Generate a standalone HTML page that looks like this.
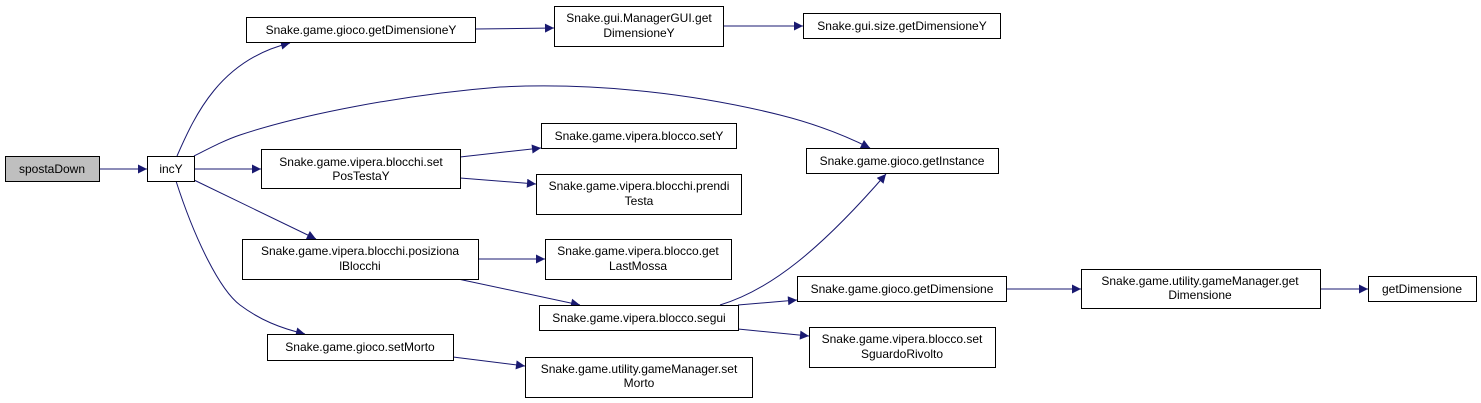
<!DOCTYPE html>
<html><head><meta charset="utf-8"><style>
html,body{margin:0;padding:0;background:#fff;}
svg{display:block;}
text{font-family:"Liberation Sans",Arial,sans-serif;font-size:12px;fill:#000;}
</style></head><body>
<svg width="1481" height="403" viewBox="0 0 1481 403" xmlns="http://www.w3.org/2000/svg">
<defs>
<marker id="a" viewBox="0 0 10 10" refX="10" refY="5" markerWidth="12" markerHeight="9" markerUnits="userSpaceOnUse" orient="auto">
<path d="M0,0 L10,5 L0,10 z" fill="#191970"/>
</marker>
</defs>
<g fill="none" stroke="#191970" stroke-width="1" marker-end="url(#a)">
<path d="M99,169 L147,169"/>
<path d="M177,156 C195,115 220,60 290,43"/>
<path d="M194,156 C210,148 225,140 240,135 C300,115 400,95 500,87 C600,82 700,95 780,115 C820,125 850,138 870,148"/>
<path d="M194,169 L261,169"/>
<path d="M194,180 L316,239"/>
<path d="M176,181 C195,240 220,290 240,305 C260,320 280,328 305,334"/>
<path d="M475,29 L554,28"/>
<path d="M723,26 L803,26"/>
<path d="M460,157 L541,148"/>
<path d="M460,178 L536,184"/>
<path d="M478,259 L545,259"/>
<path d="M458,279 L580,305"/>
<path d="M453,357 L525,366"/>
<path d="M720,305 C770,290 820,250 886,174"/>
<path d="M738,305 L797,300"/>
<path d="M738,329 L809,336"/>
<path d="M1006,289 L1081,289"/>
<path d="M1320,289 L1368,289"/>
</g>
<g fill="#fff" stroke="#000" stroke-width="1">
<rect x="5.5" y="156.5" width="94" height="25" fill="#bfbfbf"/>
<rect x="147.5" y="156.5" width="47" height="25"/>
<rect x="246.5" y="17.5" width="229" height="25"/>
<rect x="261.5" y="149.5" width="199" height="39"/>
<rect x="242.5" y="239.5" width="236" height="40"/>
<rect x="267.5" y="334.5" width="186" height="26"/>
<rect x="554.5" y="6.5" width="169" height="40"/>
<rect x="803.5" y="13.5" width="197" height="25"/>
<rect x="541.5" y="123.5" width="195" height="25"/>
<rect x="536.5" y="174.5" width="205" height="40"/>
<rect x="545.5" y="239.5" width="186" height="40"/>
<rect x="539.5" y="305.5" width="199" height="25"/>
<rect x="806.5" y="148.5" width="192" height="25"/>
<rect x="797.5" y="276.5" width="209" height="25"/>
<rect x="809.5" y="327.5" width="186" height="40"/>
<rect x="525.5" y="357.5" width="227" height="40"/>
<rect x="1081.5" y="269.5" width="239" height="39"/>
<rect x="1368.5" y="276.5" width="108" height="25"/>
</g>
<g text-anchor="middle">
<text x="52" y="173">spostaDown</text>
<text x="171" y="173">incY</text>
<text x="361" y="34">Snake.game.gioco.getDimensioneY</text>
<text x="361" y="166">Snake.game.vipera.blocchi.set</text>
<text x="361" y="180">PosTestaY</text>
<text x="360" y="255">Snake.game.vipera.blocchi.posiziona</text>
<text x="360" y="270">lBlocchi</text>
<text x="360" y="351">Snake.game.gioco.setMorto</text>
<text x="639" y="22">Snake.gui.ManagerGUI.get</text>
<text x="639" y="37">DimensioneY</text>
<text x="902" y="30">Snake.gui.size.getDimensioneY</text>
<text x="639" y="140">Snake.game.vipera.blocco.setY</text>
<text x="639" y="190">Snake.game.vipera.blocchi.prendi</text>
<text x="639" y="205">Testa</text>
<text x="638" y="255">Snake.game.vipera.blocco.get</text>
<text x="638" y="270">LastMossa</text>
<text x="639" y="322">Snake.game.vipera.blocco.segui</text>
<text x="902" y="165">Snake.game.gioco.getInstance</text>
<text x="902" y="293">Snake.game.gioco.getDimensione</text>
<text x="902" y="343">Snake.game.vipera.blocco.set</text>
<text x="902" y="358">SguardoRivolto</text>
<text x="639" y="373">Snake.game.utility.gameManager.set</text>
<text x="639" y="387">Morto</text>
<text x="1200" y="285">Snake.game.utility.gameManager.get</text>
<text x="1200" y="299">Dimensione</text>
<text x="1422" y="293">getDimensione</text>
</g>
</svg>
</body></html>
